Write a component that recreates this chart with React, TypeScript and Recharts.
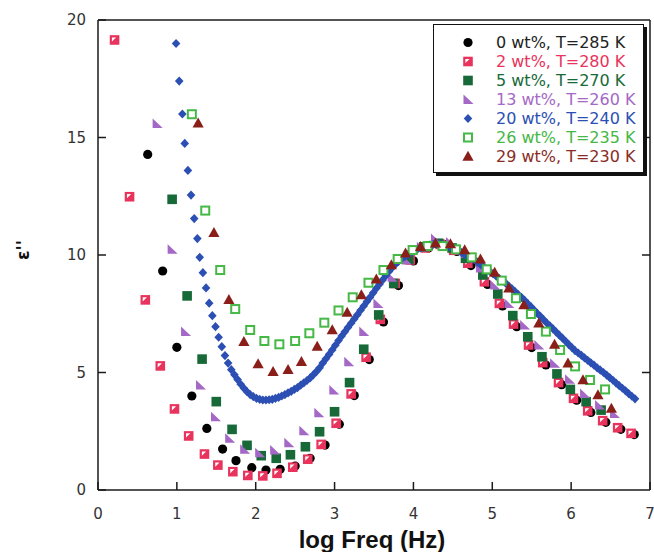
import React from "react";
import { ScatterChart, Scatter, XAxis, YAxis, Legend } from "recharts";

const xTicks = [0, 1, 2, 3, 4, 5, 6, 7];
const yTicks = [0, 5, 10, 15, 20];
const topTicks = [1, 2, 3, 4, 5, 6];
const rightTicks = [5, 10, 15];

const labels = [
  "0 wt%, T=285 K",
  "2 wt%, T=280 K",
  "5 wt%, T=270 K",
  "13 wt%, T=260 K",
  "20 wt%, T=240 K",
  "26 wt%, T=235 K",
  "29 wt%, T=230 K",
];

const s0: [number, number][] = [
  [0.63, 14.28], [0.82, 9.32], [1.0, 6.07], [1.19, 4.0], [1.38, 2.62], [1.58, 1.74], [1.75, 1.25], [1.95, 0.95],
  [2.13, 0.85], [2.31, 0.88], [2.5, 1.02], [2.69, 1.35], [2.88, 1.91], [3.06, 2.8], [3.25, 4.02], [3.44, 5.55],
  [3.62, 7.15], [3.81, 8.7], [4.0, 9.75], [4.19, 10.3], [4.38, 10.45], [4.55, 10.15], [4.73, 9.55], [4.94, 8.75],
  [5.13, 7.83], [5.31, 6.95], [5.5, 6.06], [5.68, 5.32], [5.88, 4.48], [6.07, 3.82], [6.25, 3.3], [6.44, 2.88],
  [6.63, 2.58], [6.8, 2.36],
];

const s2: [number, number][] = [
  [0.21, 19.15], [0.4, 12.48], [0.6, 8.09], [0.79, 5.28], [0.97, 3.45], [1.15, 2.3], [1.35, 1.53], [1.52, 1.06],
  [1.71, 0.78], [1.9, 0.62], [2.09, 0.6], [2.27, 0.71], [2.47, 0.97], [2.66, 1.31], [2.83, 1.94], [3.02, 2.84],
  [3.21, 4.09], [3.4, 5.65], [3.58, 7.26], [3.77, 8.79], [3.96, 9.79], [4.15, 10.3], [4.34, 10.45], [4.51, 10.2],
  [4.69, 9.65], [4.9, 8.86], [5.09, 7.94], [5.27, 7.06], [5.46, 6.17], [5.64, 5.42], [5.84, 4.57], [6.03, 3.9],
  [6.21, 3.37], [6.4, 2.95], [6.59, 2.65], [6.76, 2.41],
];

const s5: [number, number][] = [
  [0.94, 12.37], [1.13, 8.26], [1.32, 5.57], [1.5, 3.76], [1.7, 2.58], [1.89, 1.9], [2.07, 1.46], [2.26, 1.35],
  [2.44, 1.5], [2.63, 1.84], [2.81, 2.48], [3.0, 3.33], [3.19, 4.57], [3.37, 5.99], [3.56, 7.45], [3.75, 8.79],
  [3.94, 9.82], [4.13, 10.35], [4.32, 10.5], [4.49, 10.3], [4.66, 9.86], [4.88, 9.15], [5.07, 8.34], [5.26, 7.42],
  [5.45, 6.52], [5.63, 5.67], [5.82, 4.94], [5.99, 4.28], [6.19, 3.76], [6.38, 3.4],
];

const s13: [number, number][] = [
  [0.75, 15.6], [0.94, 10.24], [1.11, 6.74], [1.3, 4.47], [1.49, 3.12], [1.67, 2.2], [1.86, 1.73], [2.05, 1.59],
  [2.24, 1.7], [2.42, 2.01], [2.61, 2.52], [2.8, 3.29], [2.99, 4.26], [3.18, 5.46], [3.37, 6.74], [3.55, 7.94],
  [3.73, 9.05], [3.91, 9.79], [4.1, 10.35], [4.28, 10.7], [4.47, 10.55], [4.66, 10.07], [4.85, 9.45], [5.03, 8.72],
  [5.21, 7.94], [5.41, 7.02], [5.59, 6.17], [5.79, 5.39], [5.98, 4.71], [6.17, 4.11], [6.36, 3.62], [6.55, 3.26],
];

const s20: [number, number][] = [
  [0.99, 19.0], [1.03, 17.4], [1.07, 16.0], [1.1, 14.75], [1.14, 13.6], [1.18, 12.55], [1.22, 11.55], [1.26, 10.7],
  [1.29, 9.9], [1.33, 9.25], [1.37, 8.6], [1.41, 7.95], [1.45, 7.42], [1.49, 6.95], [1.53, 6.5], [1.57, 6.1],
  [1.61, 5.72], [1.65, 5.4], [1.69, 5.12], [1.73, 4.9], [1.77, 4.7], [1.81, 4.5], [1.85, 4.33], [1.89, 4.18],
  [1.93, 4.06], [1.97, 3.97], [2.01, 3.9], [2.05, 3.86], [2.09, 3.83], [2.13, 3.83], [2.17, 3.84], [2.21, 3.86],
  [2.25, 3.9], [2.29, 3.94], [2.33, 4.0], [2.37, 4.06], [2.41, 4.13], [2.45, 4.2], [2.49, 4.28], [2.53, 4.36],
  [2.57, 4.46], [2.61, 4.56], [2.65, 4.66], [2.69, 4.77], [2.73, 4.9], [2.77, 5.04], [2.81, 5.2], [2.85, 5.4],
  [2.89, 5.58], [2.93, 5.77], [2.97, 5.96], [3.01, 6.16], [3.05, 6.36], [3.09, 6.55], [3.13, 6.73], [3.17, 6.92],
  [3.21, 7.1], [3.25, 7.28], [3.29, 7.46], [3.33, 7.65], [3.37, 7.83], [3.41, 8.02], [3.45, 8.2], [3.49, 8.39],
  [3.53, 8.58], [3.57, 8.76], [3.61, 8.94], [3.65, 9.12], [3.69, 9.3], [3.73, 9.46], [3.77, 9.6], [3.81, 9.73],
  [3.85, 9.84], [3.89, 9.93], [3.93, 10.02], [3.97, 10.1], [4.01, 10.18], [4.05, 10.25], [4.09, 10.31], [4.13, 10.36],
  [4.17, 10.4], [4.21, 10.43], [4.25, 10.45], [4.29, 10.46], [4.33, 10.46], [4.37, 10.44], [4.41, 10.4], [4.45, 10.36],
  [4.49, 10.3], [4.53, 10.24], [4.57, 10.17], [4.61, 10.1], [4.65, 10.02], [4.69, 9.95], [4.73, 9.88], [4.77, 9.8],
  [4.81, 9.7], [4.85, 9.6], [4.89, 9.5], [4.93, 9.4], [4.97, 9.3], [5.01, 9.2], [5.05, 9.1], [5.09, 9.0],
  [5.13, 8.9], [5.17, 8.8], [5.21, 8.68], [5.25, 8.56], [5.29, 8.44], [5.33, 8.32], [5.37, 8.2], [5.41, 8.07],
  [5.45, 7.93], [5.49, 7.8], [5.53, 7.66], [5.57, 7.52], [5.61, 7.39], [5.65, 7.25], [5.69, 7.11], [5.73, 6.99],
  [5.77, 6.86], [5.81, 6.72], [5.85, 6.59], [5.89, 6.46], [5.93, 6.33], [5.97, 6.19], [6.01, 6.06], [6.05, 5.93],
  [6.09, 5.83], [6.13, 5.73], [6.17, 5.62], [6.21, 5.52], [6.25, 5.41], [6.29, 5.31], [6.33, 5.2], [6.37, 5.1],
  [6.41, 5.0], [6.45, 4.89], [6.49, 4.78], [6.53, 4.67], [6.57, 4.55], [6.61, 4.44], [6.65, 4.33], [6.69, 4.22],
  [6.73, 4.1], [6.77, 3.99], [6.81, 3.88],
];

const s26: [number, number][] = [
  [1.19, 15.99], [1.36, 11.89], [1.55, 9.36], [1.74, 7.7], [1.93, 6.81], [2.11, 6.34], [2.3, 6.2], [2.5, 6.34],
  [2.68, 6.67], [2.87, 7.12], [3.05, 7.64], [3.23, 8.2], [3.43, 8.82], [3.62, 9.36], [3.8, 9.83], [3.99, 10.21],
  [4.18, 10.38], [4.37, 10.38], [4.54, 10.24], [4.74, 9.9], [4.93, 9.39], [5.12, 8.91], [5.3, 8.16], [5.49, 7.49],
  [5.68, 6.74], [5.86, 5.96], [6.05, 5.26], [6.24, 4.68], [6.43, 4.28],
];

const s29: [number, number][] = [
  [1.27, 15.6], [1.47, 10.95], [1.66, 8.09], [1.85, 6.31], [2.03, 5.36], [2.22, 5.03], [2.41, 5.11], [2.58, 5.46],
  [2.78, 6.1], [2.97, 6.81], [3.16, 7.55], [3.34, 8.3], [3.53, 8.97], [3.72, 9.57], [3.9, 10.07], [4.09, 10.35],
  [4.28, 10.5], [4.47, 10.47], [4.65, 10.21], [4.85, 9.82], [5.03, 9.25], [5.21, 8.58], [5.4, 7.87], [5.59, 7.09],
  [5.79, 6.19], [5.96, 5.39], [6.15, 4.68], [6.34, 4.04], [6.51, 3.47],
];

const C_BLACK = "#000000";
const C_PINK = "#e8335c";
const C_DGREEN = "#176a38";
const C_PURPLE = "#a468c6";
const C_BLUE = "#2c4fb3";
const C_GREEN = "#45b845";
const C_DRED = "#8a1f1a";
const textColors = ["#222222", C_PINK, C_DGREEN, C_PURPLE, C_BLUE, C_GREEN, "#8a2c26"];

type MK = (cx: number, cy: number) => React.ReactElement;

const markers: MK[] = [
  (cx, cy) => <circle cx={cx} cy={cy} r={4.6} fill={C_BLACK} />,
  (cx, cy) => (
    <g>
      <rect x={cx - 4.8} y={cy - 4.8} width={9.6} height={9.6} fill={C_PINK} />
      <polygon points={`${cx - 2.6},${cy + 1.6} ${cx - 2.6},${cy - 2.6} ${cx + 1.6},${cy - 2.6}`} fill="#ffffff" />
    </g>
  ),
  (cx, cy) => <rect x={cx - 4.8} y={cy - 4.8} width={9.6} height={9.6} fill={C_DGREEN} />,
  (cx, cy) => (
    <polygon points={`${cx - 4.5},${cy - 5} ${cx - 4.5},${cy + 4.5} ${cx + 5.5},${cy + 4.5}`} fill={C_PURPLE} />
  ),
  (cx, cy) => (
    <polygon points={`${cx},${cy - 4.6} ${cx + 4.3},${cy} ${cx},${cy + 4.6} ${cx - 4.3},${cy}`} fill={C_BLUE} />
  ),
  (cx, cy) => (
    <rect x={cx - 4} y={cy - 4} width={8} height={8} fill="#ffffff" stroke={C_GREEN} strokeWidth={2} />
  ),
  (cx, cy) => (
    <polygon points={`${cx},${cy - 5.8} ${cx + 5.6},${cy + 4.2} ${cx - 5.6},${cy + 4.2}`} fill={C_DRED} />
  ),
];

const seriesData = [s0, s2, s5, s13, s20, s26, s29].map((s) => s.map(([x, y]) => ({ x, y })));

const axisColor = "#1a1a1a";
const TICK_LEN = 8;
const X_MARGIN = 18;
const Y_MARGIN = 12;

const BottomTick = (p: any) => {
  const axisY = p.y - X_MARGIN;
  return (
    <g>
      <line x1={p.x} y1={axisY} x2={p.x} y2={axisY - TICK_LEN} stroke={axisColor} strokeWidth={1.5} />
      <text x={p.x} y={p.y} dy="0.71em" textAnchor="middle" fontFamily="DejaVu Sans" fontSize={15} fill="#333">
        {p.payload.value}
      </text>
    </g>
  );
};

const LeftTick = (p: any) => {
  const axisX = p.x + Y_MARGIN;
  return (
    <g>
      <line x1={axisX} y1={p.y} x2={axisX + TICK_LEN} y2={p.y} stroke={axisColor} strokeWidth={1.5} />
      <text x={p.x} y={p.y} dy="0.355em" textAnchor="end" fontFamily="DejaVu Sans" fontSize={15} fill="#333">
        {p.payload.value}
      </text>
    </g>
  );
};

const TopTick = (p: any) => (
  <line x1={p.x} y1={p.y} x2={p.x} y2={p.y + TICK_LEN} stroke={axisColor} strokeWidth={1.5} />
);

const RightTick = (p: any) => (
  <line x1={p.x} y1={p.y} x2={p.x - TICK_LEN} y2={p.y} stroke={axisColor} strokeWidth={1.5} />
);

const LegendBox = () => (
  <div
    style={{
      width: 211,
      height: 149,
      boxSizing: "border-box",
      border: "1.5px solid #111",
      boxShadow: "3px 3px 0 #111",
      background: "#ffffff",
      paddingTop: 8,
      fontFamily: "DejaVu Sans",
      fontSize: 16,
    }}
  >
    {labels.map((l, i) => (
      <div key={l} style={{ height: 19, display: "flex", alignItems: "center" }}>
        <svg width={20} height={19} style={{ marginLeft: 24, flex: "none" }}>
          {markers[i](10, 9.5)}
        </svg>
        <span style={{ marginLeft: 18, color: textColors[i], whiteSpace: "nowrap", lineHeight: "19px" }}>{l}</span>
      </div>
    ))}
  </div>
);

const YLabel = (props: any) => {
  const vb = props.viewBox || { x: 0, y: 20, width: 98, height: 470 };
  const x = vb.x + 29;
  const y = vb.y + vb.height / 2 - 5;
  return (
    <text
      x={x}
      y={y}
      transform={`rotate(-90, ${x}, ${y})`}
      textAnchor="middle"
      fontFamily="DejaVu Sans"
      fontWeight="bold"
      fontSize={17}
      fill="#111"
    >
      {"ε''"}
    </text>
  );
};

const XLabel = (props: any) => {
  const vb = props.viewBox || { x: 98, y: 490, width: 552, height: 62 };
  const x = vb.x + vb.width / 2 - 2;
  const y = vb.y + 58;
  return (
    <text x={x} y={y} textAnchor="middle" fontFamily="Liberation Sans" fontWeight="bold" fontSize={24} fill="#111">
      log Freq (Hz)
    </text>
  );
};

export default function App() {
  return (
    <div style={{ position: "absolute", left: 0, top: 0, background: "#ffffff" }}>
      <ScatterChart width={654} height={552} margin={{ top: 19, right: 3, bottom: 0, left: 0 }}>
        <XAxis
          xAxisId="b"
          dataKey="x"
          type="number"
          domain={[0, 7]}
          ticks={xTicks}
          interval={0}
          height={62}
          tickSize={0}
          tickLine={false}
          tickMargin={X_MARGIN}
          tick={<BottomTick />}
          stroke={axisColor}
          strokeWidth={1.5}
          allowDataOverflow
          label={<XLabel />}
        />
        <XAxis
          xAxisId="t"
          orientation="top"
          type="number"
          domain={[0, 7]}
          ticks={topTicks}
          interval={0}
          height={1}
          tickSize={0}
          tickLine={false}
          tickMargin={0}
          tick={<TopTick />}
          stroke={axisColor}
          strokeWidth={1.5}
          allowDataOverflow
        />
        <YAxis
          yAxisId="l"
          dataKey="y"
          type="number"
          domain={[0, 20]}
          ticks={yTicks}
          interval={0}
          width={98}
          tickSize={0}
          tickLine={false}
          tickMargin={Y_MARGIN}
          tick={<LeftTick />}
          stroke={axisColor}
          strokeWidth={1.5}
          allowDataOverflow
          label={<YLabel />}
        />
        <YAxis
          yAxisId="r"
          orientation="right"
          type="number"
          domain={[0, 20]}
          ticks={rightTicks}
          interval={0}
          width={1}
          tickSize={0}
          tickLine={false}
          tickMargin={0}
          tick={<RightTick />}
          stroke={axisColor}
          strokeWidth={1.5}
          allowDataOverflow
        />
        {seriesData.map((d, i) => (
          <Scatter
            key={labels[i]}
            name={labels[i]}
            data={d}
            xAxisId="b"
            yAxisId="l"
            isAnimationActive={false}
            shape={(p: any) => markers[i](p.cx, p.cy)}
          />
        ))}
        <Legend
          layout="vertical"
          align="center"
          verticalAlign="middle"
          wrapperStyle={{ position: "absolute", left: 433, top: 24, width: 211, height: 149 }}
          content={() => <LegendBox />}
        />
      </ScatterChart>
    </div>
  );
}
